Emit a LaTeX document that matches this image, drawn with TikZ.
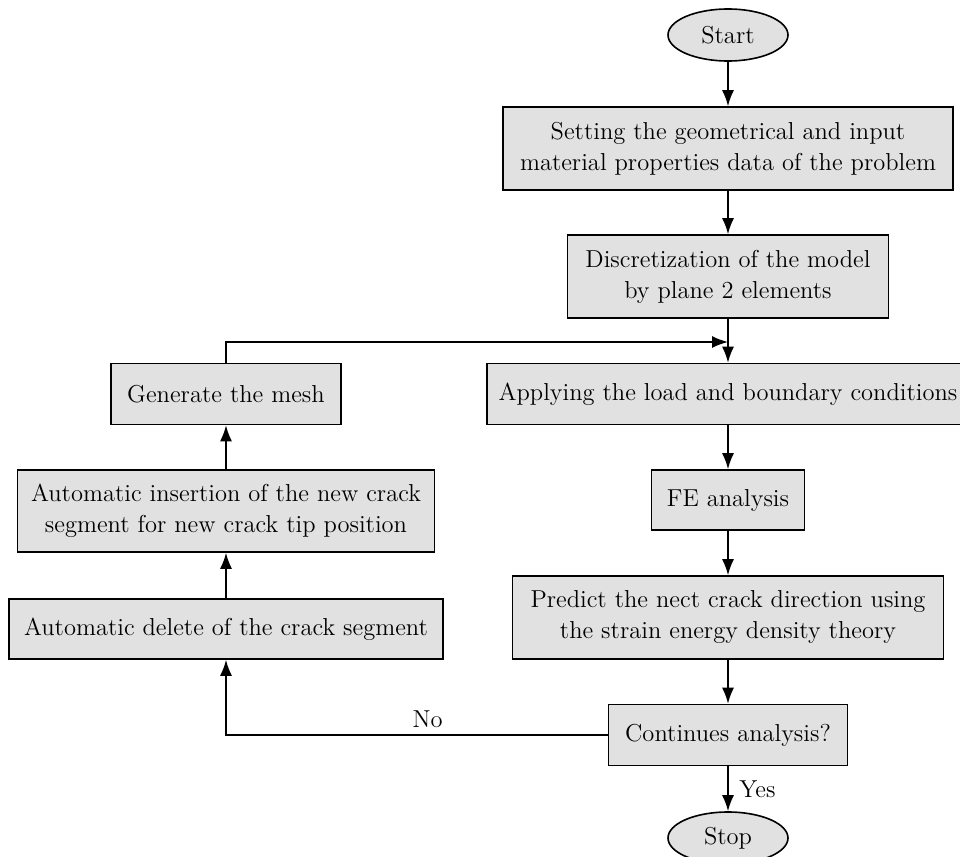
\documentclass[tikz,border=0pt]{standalone}
\usetikzlibrary{shapes.geometric,arrows.meta}
\definecolor{boxfill}{RGB}{225,225,225}
\begin{document}
\begin{tikzpicture}[x=0.5pt,y=-0.5pt,
  every node/.style={font=\fontsize{12.25}{15.5}\selectfont},
  box/.style={draw,line width=0.8pt,fill=boxfill,rectangle,align=center,inner sep=0pt},
  term/.style={draw,line width=0.8pt,fill=boxfill,ellipse,inner sep=0pt,minimum width=60pt,minimum height=26pt},
  conn/.style={line width=0.8pt,-{Latex[length=8pt,width=6pt]}},
  plain/.style={line width=0.8pt}]
\useasboundingbox (0,0) rectangle (960,857);
\clip (0,0) rectangle (960,857);
\node[term] (start) at (728,35) {Start};
\node[box,minimum width=225pt,minimum height=41.5pt] (set) at (728,148.5) {Setting the geometrical and input\\material properties data of the problem};
\node[box,minimum width=160.5pt,minimum height=41.5pt] (disc) at (728,276.5) {Discretization of the model\\by plane 2 elements};
\node[box,minimum width=241pt,minimum height=30.5pt] (apply) at (728,394) {Applying the load and boundary conditions};
\node[box,minimum width=76.5pt,minimum height=30pt] (fe) at (728,500) {FE analysis};
\node[box,minimum width=215.5pt,minimum height=41.5pt] (pred) at (728,617.5) {Predict the nect crack direction using\\the strain energy density theory};
\node[box,minimum width=119.5pt,minimum height=30.5pt] (cont) at (728,735) {Continues analysis?};
\node[term] (stop) at (728,838) {Stop};
\node[box,minimum width=115pt,minimum height=30.5pt] (mesh) at (226,394) {Generate the mesh};
\node[box,minimum width=208.5pt,minimum height=41pt] (ins) at (226,511) {Automatic insertion of the new crack\\segment for new crack tip position};
\node[box,minimum width=217pt,minimum height=30pt] (del) at (226,629) {Automatic delete of the crack segment};
\coordinate (join) at (728,342);
\draw[conn] (start) -- (set);
\draw[conn] (set) -- (disc);
\draw[plain] (disc) -- (join);
\draw[conn] (join) -- (apply);
\draw[conn] (mesh.north) |- (join);
\draw[conn] (apply) -- (fe);
\draw[conn] (fe) -- (pred);
\draw[conn] (pred) -- (cont);
\draw[conn] (cont) -- node[right,xshift=2pt] {Yes} (stop);
\draw[conn] (cont.west) -| node[pos=0.236,above] {No} (del.south);
\draw[conn] (del) -- (ins);
\draw[conn] (ins) -- (mesh);
\end{tikzpicture}
\end{document}
